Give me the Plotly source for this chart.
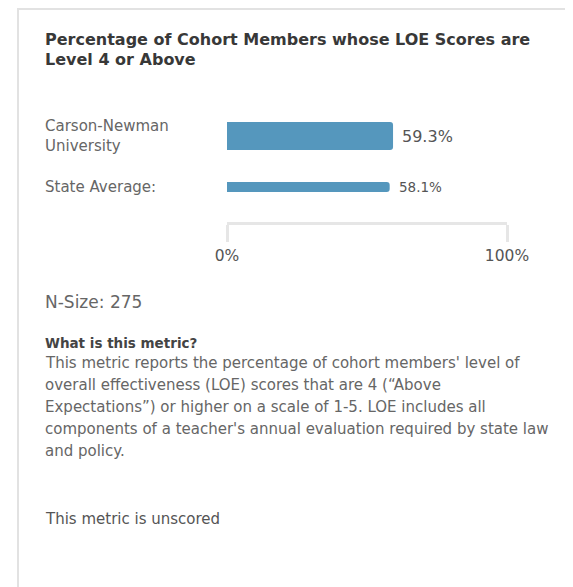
import plotly.graph_objects as go

# ---- data ----
categories = ["Carson-Newman<br>University", "State Average:"]
values = [59.3, 58.1]
axis_ticks = [0, 100]
axis_tick_labels = ["0%", "100%"]
title_lines = ["Percentage of Cohort Members whose LOE Scores are", "Level 4 or Above"]
n_size = "N-Size: 275"
metric_heading = "What is this metric?"
metric_lines = [
    "This metric reports the percentage of cohort members' level of",
    "overall effectiveness (LOE) scores that are 4 (“Above",
    "Expectations”) or higher on a scale of 1-5. LOE includes all",
    "components of a teacher's annual evaluation required by state law",
    "and policy.",
]
footer = "This metric is unscored"

# ---- layout geometry (page pixel coordinates) ----
OFF = 8                      # default body margin of the html page
W, H = 573 - OFF, 587 - OFF  # figure size
PL, PR = 227, 507            # plot area x (0% .. 100%)
PT, PB = 105, 222            # plot area y
FONT = "DejaVu Sans"
BAR = "#5597bd"


def px_x(px):
    return (px - PL) / (PR - PL)


def px_y(py):
    return (PB - py) / (PB - PT)


fig = go.Figure()
fig.add_trace(go.Bar(
    x=values,
    y=categories,
    orientation="h",
    width=[0.55, 0.196],
    marker=dict(color=BAR, line=dict(width=0)),
    cliponaxis=False,
    hoverinfo="skip",
))

annotations = []
# value labels next to the bars
for v, c, s in zip(values, categories, [16, 13.5]):
    annotations.append(dict(text=f"{v:.1f}%", x=v, y=c, xref="x", yref="y", xshift=7,
                            font=dict(family=FONT, size=s, color="#555555")))
# title
for i, t in enumerate(title_lines):
    annotations.append(dict(text=f"<b>{t}</b>", x=px_x(43), y=px_y(39 + 20 * i),
                            font=dict(family=FONT, size=16, color="#383838")))
# category labels
for c in categories:
    annotations.append(dict(text=c, x=px_x(43), y=c, yref="y",
                            font=dict(family=FONT, size=15, color="#666666")))
annotations.append(dict(text=n_size, x=px_x(43), y=px_y(302),
                        font=dict(family=FONT, size=17, color="#666666")))
annotations.append(dict(text=f"<b>{metric_heading}</b>", x=px_x(43), y=px_y(343),
                        font=dict(family=FONT, size=13.5, color="#444444")))
for i, t in enumerate(metric_lines):
    annotations.append(dict(text=t, x=px_x(43), y=px_y(363 + 22 * i),
                            font=dict(family=FONT, size=15, color="#666666")))
annotations.append(dict(text=footer, x=px_x(43), y=px_y(519),
                        font=dict(family=FONT, size=15, color="#555555")))
for a in annotations:
    a.setdefault("xref", "paper")
    a.setdefault("yref", "paper")
    a.update(xanchor="left", yanchor="middle", showarrow=False, align="left")

fig.update_layout(
    width=W, height=H,
    margin=dict(l=PL - OFF, r=W - (PR - OFF), t=PT - OFF, b=H - (PB - OFF)),
    paper_bgcolor="white", plot_bgcolor="white",
    showlegend=False,
    barcornerradius=3,
    xaxis=dict(range=[0, 100], tickvals=axis_ticks, ticktext=axis_tick_labels,
               showgrid=False, zeroline=False, showline=True, linecolor="#e6e6e6",
               linewidth=3, ticks="outside", ticklen=17, tickwidth=3, tickcolor="#e6e6e6",
               tickfont=dict(family=FONT, size=15.5, color="#555555"), fixedrange=True),
    yaxis=dict(type="category", categoryarray=categories, range=[1.686, -0.608],
               showticklabels=False, showgrid=False, zeroline=False, showline=False,
               fixedrange=True),
    annotations=annotations,
    shapes=[dict(type="rect", xref="paper", yref="paper",
                 x0=px_x(18), x1=px_x(640), y0=px_y(9), y1=px_y(660),
                 line=dict(color="#e2e2e2", width=2), fillcolor="rgba(0,0,0,0)", layer="below")],
)

fig.write_html("out.html", config={"displayModeBar": False})
